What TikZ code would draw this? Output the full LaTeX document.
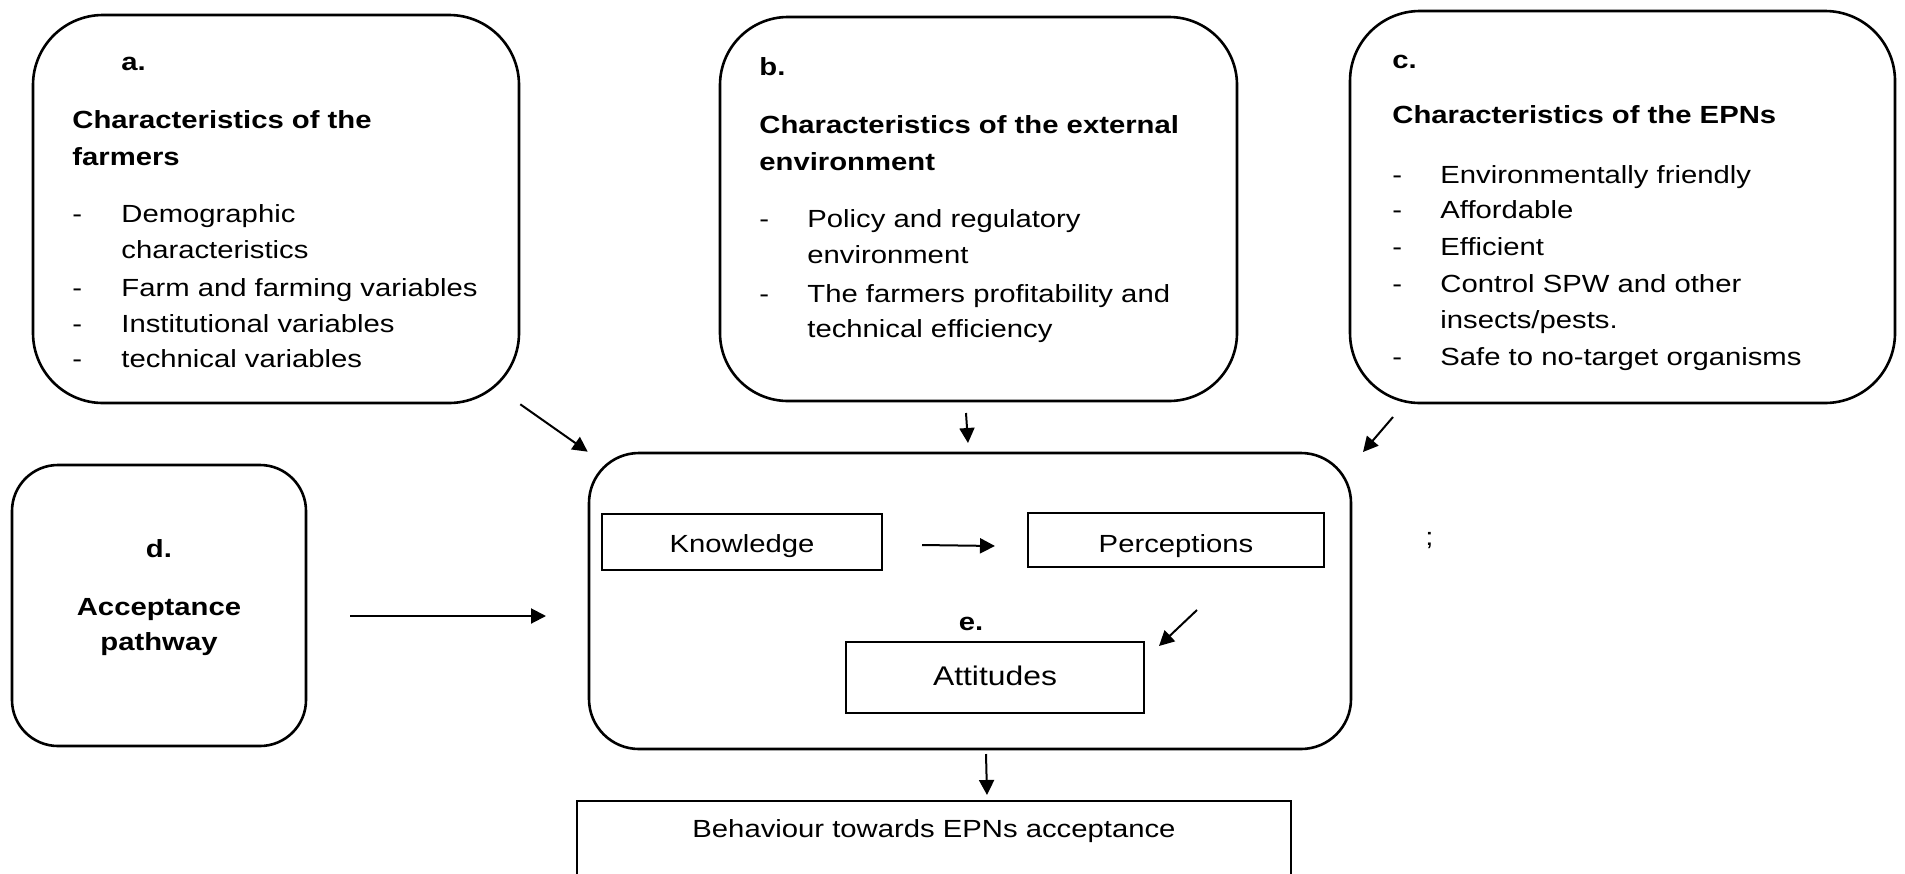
\documentclass[tikz,border=0pt]{standalone}
\usepackage{fontspec}
\setmainfont{Liberation Sans}[FakeStretch=1.18]
\usetikzlibrary{arrows.meta}
\newcommand\nfont{\fontsize{12.4}{18}\selectfont}
\newcommand\afont{\fontsize{13.5}{18}\selectfont}
\begin{document}
\begin{tikzpicture}[x=0.5pt,y=-0.5pt,
  rbox/.style={draw, line width=1.3pt, rounded corners=#1, inner sep=0pt},
  pbox/.style={draw, line width=1.1pt, inner sep=0pt},
  txt/.style={anchor=base west, inner sep=0pt, font=\nfont},
  btxt/.style={anchor=base west, inner sep=0pt, font=\nfont\bfseries},
  ctxt/.style={anchor=base, inner sep=0pt, font=\nfont},
  cbtxt/.style={anchor=base, inner sep=0pt, font=\nfont\bfseries},
  arr/.style={line width=1pt, -{Triangle[length=7.5pt,width=7.5pt]}}]
\useasboundingbox (0,0) rectangle (1905,873);
\fill[white] (0,0) rectangle (1905,873);
\begin{scope}
\clip (0,0) rectangle (1905,873);
% boxes
\node[rbox=35pt, minimum width=243pt, minimum height=194pt] (a) at (276,209) {};
\node[rbox=34pt, minimum width=258.5pt, minimum height=192pt] (b) at (978.5,209) {};
\node[rbox=35pt, minimum width=272.5pt, minimum height=196pt] (c) at (1622.5,207) {};
\node[rbox=23pt, minimum width=147pt, minimum height=140.5pt] (d) at (159,605.5) {};
\node[rbox=25pt, minimum width=381pt, minimum height=148pt] (e) at (970,601) {};
\node[pbox, minimum width=140pt, minimum height=28pt] (k) at (742,542) {};
\node[pbox, minimum width=148pt, minimum height=27pt] (p) at (1176,540) {};
\node[pbox, minimum width=149pt, minimum height=35.5pt] (att) at (995,677.5) {};
\node[pbox, minimum width=357pt, minimum height=60pt] (beh) at (934,861) {};
\end{scope}
% box a text
\node[btxt] (aL) at (121,70) {a.};
\node[btxt] (aH1) at (72,128) {Characteristics of the};
\node[btxt] (aH2) at (72,165) {farmers};
\node[txt] (aD1) at (72,222) {-};
\node[txt] (aI1) at (121,222) {Demographic};
\node[txt] (aI1b) at (121,258) {characteristics};
\node[txt] (aD2) at (72,296) {-};
\node[txt] (aI2) at (121,296) {Farm and farming variables};
\node[txt] (aD3) at (72,332) {-};
\node[txt] (aI3) at (121,332) {Institutional variables};
\node[txt] (aD4) at (72,367) {-};
\node[txt] (aI4) at (121,367) {technical variables};
% box b text
\node[btxt] (bL) at (759,75) {b.};
\node[btxt] (bH1) at (759,133) {Characteristics of the external};
\node[btxt] (bH2) at (759,170) {environment};
\node[txt] (bD1) at (759,227) {-};
\node[txt] (bI1) at (807,227) {Policy and regulatory};
\node[txt] (bI1b) at (807,263) {environment};
\node[txt] (bD2) at (759,302) {-};
\node[txt] (bI2) at (807,302) {The farmers profitability and};
\node[txt] (bI2b) at (807,337) {technical efficiency};
% box c text
\node[btxt] (cL) at (1392,68) {c.};
\node[btxt] (cH1) at (1392,123) {Characteristics of the EPNs};
\node[txt] (cD1) at (1392,183) {-};
\node[txt] (cI1) at (1440,183) {Environmentally friendly};
\node[txt] (cD2) at (1392,218) {-};
\node[txt] (cI2) at (1440,218) {Affordable};
\node[txt] (cD3) at (1392,255) {-};
\node[txt] (cI3) at (1440,255) {Efficient};
\node[txt] (cD4) at (1392,292) {-};
\node[txt] (cI4) at (1440,292) {Control SPW and other};
\node[txt] (cI4b) at (1440,328) {insects/pests.};
\node[txt] (cD5) at (1392,365) {-};
\node[txt] (cI5) at (1440,365) {Safe to no-target organisms};
% box d text
\node[cbtxt] (dL) at (159,557) {d.};
\node[cbtxt] (dH1) at (159,615) {Acceptance};
\node[cbtxt] (dH2) at (159,650) {pathway};
% box e text
\node[ctxt] (kT) at (k.center |- 0,552) {Knowledge};
\node[ctxt] (pT) at (p.center |- 0,552) {Perceptions};
\node[cbtxt] (eL) at (971,630) {e.};
\node[anchor=base, inner sep=0pt, font=\afont] (attT) at (att.center |- 0,685) {Attitudes};
\node[ctxt] (behT) at (934,837) {Behaviour towards EPNs acceptance};
\node[txt] (semi) at (1425,545) {;};
% arrows
\coordinate (b1) at (966,413);
\coordinate (b2) at (968,443);
\coordinate (c1) at (1393,417);
\coordinate (c2) at (1363,452);
\coordinate (d1) at (350,616);
\coordinate (d2) at (546,616);
\coordinate (k1) at (922,545);
\coordinate (k2) at (995,546);
\coordinate (p1) at (1197,610);
\coordinate (p2) at (1159,646);
\coordinate (e1) at (986,754);
\coordinate (e2) at (987,795);
\draw[arr] (a.south east) -- (e.north west);
\draw[arr] (b1) -- (b2);
\draw[arr] (c1) -- (c2);
\draw[arr] (d1) -- (d2);
\draw[arr] (k1) -- (k2);
\draw[arr] (p1) -- (p2);
\draw[arr] (e1) -- (e2);
\end{tikzpicture}
\end{document}
